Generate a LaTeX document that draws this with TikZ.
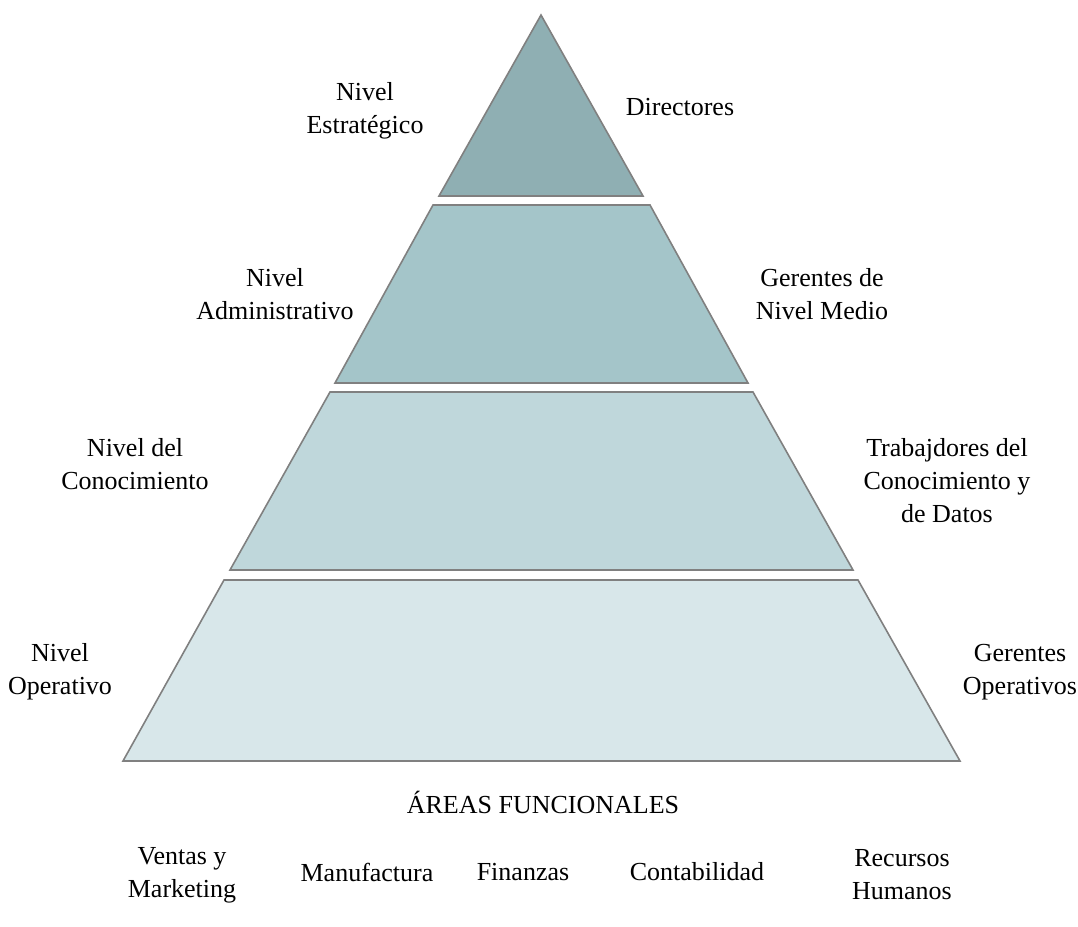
\documentclass[tikz,border=0pt]{standalone}
\usepackage{fontspec}
\setmainfont{Liberation Serif}
\begin{document}
\begin{tikzpicture}[x=0.5pt,y=-0.5pt,
  tier/.style={draw=black!50,line width=0.8pt,line join=miter},
  lbl/.style={align=center,font=\fontsize{13}{16.5}\selectfont,inner sep=0pt}]
\useasboundingbox (0,0) rectangle (1078,927);
\definecolor{tA}{HTML}{8FAFB3}
\definecolor{tB}{HTML}{A4C5C9}
\definecolor{tC}{HTML}{BFD7DB}
\definecolor{tD}{HTML}{D8E7EA}
% tiers
\draw[tier,fill=tA] (541,15) -- (643,196) -- (439,196) -- cycle;
\draw[tier,fill=tB] (433,205) -- (650,205) -- (748,383) -- (335,383) -- cycle;
\draw[tier,fill=tC] (330,392) -- (753,392) -- (853,570) -- (230,570) -- cycle;
\draw[tier,fill=tD] (224,580) -- (858,580) -- (960,761) -- (123,761) -- cycle;
% labels
\node[lbl] (l1) at (365,111) {Nivel\\Estratégico};
\node[lbl] (r1) at (680,107) {Directores};
\node[lbl] (l2) at (275,294) {Nivel\\Administrativo};
\node[lbl] (r2) at (822,294) {Gerentes de\\Nivel Medio};
\node[lbl] (l3) at (135,464) {Nivel del\\Conocimiento};
\node[lbl] (r3) at (947,481) {Trabajdores del\\Conocimiento y\\de Datos};
\node[lbl] (l4) at (60,672) {Nivel\\Operativo};
\node[lbl] (r4) at (1020,672) {Gerentes\\Operativos};
\node[lbl] (af) at (543,802) {ÁREAS FUNCIONALES};
\node[lbl] (f1) at (182,875) {Ventas y\\Marketing};
\node[lbl] (f2) at (367,872) {Manufactura};
\node[lbl] (f3) at (523,872) {Finanzas};
\node[lbl] (f4) at (697,872) {Contabilidad};
\node[lbl] (f5) at (902,875) {Recursos\\Humanos};
\end{tikzpicture}
\end{document}
